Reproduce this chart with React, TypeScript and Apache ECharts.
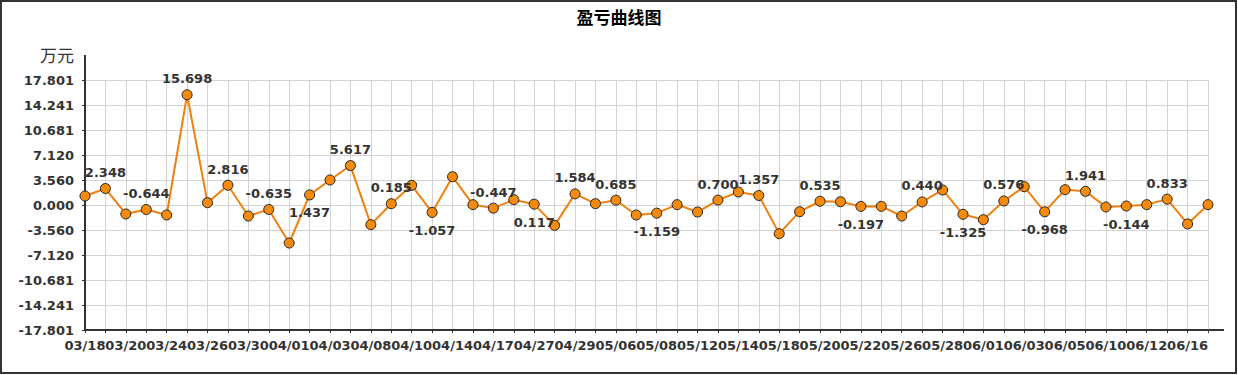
import React, { useEffect, useRef } from "react";
import * as echarts from "echarts";

const categories: string[] = [
  "03/18", "03/19", "03/20", "03/23", "03/24", "03/25", "03/26", "03/27",
  "03/30", "03/31", "04/01", "04/02", "04/03", "04/07", "04/08", "04/09",
  "04/10", "04/13", "04/14", "04/16", "04/17", "04/20", "04/27", "04/28",
  "04/29", "04/30", "05/06", "05/07", "05/08", "05/11", "05/12", "05/13",
  "05/14", "05/15", "05/18", "05/19", "05/20", "05/21", "05/22", "05/25",
  "05/26", "05/27", "05/28", "05/29", "06/01", "06/02", "06/03", "06/04",
  "06/05", "06/08", "06/10", "06/11", "06/12", "06/15", "06/16", "06/17",
];

const profit: number[] = [
  1.28, 2.348, -1.28, -0.644, -1.42, 15.698, 0.33, 2.816,
  -1.57, -0.635, -5.41, 1.437, 3.56, 5.617, -2.8, 0.185,
  2.8, -1.057, 4.03, 0.05, -0.447, 0.76, 0.117, -2.9,
  1.584, 0.19, 0.685, -1.42, -1.159, 0.05, -1.0, 0.7,
  1.85, 1.357, -4.08, -0.95, 0.535, 0.47, -0.197, -0.19,
  -1.57, 0.44, 2.14, -1.325, -2.09, 0.576, 2.61, -0.968,
  2.18, 1.941, -0.28, -0.144, 0.05, 0.833, -2.7, 0.05,
];

// label placement per point: "" = no label
const labelPos: string[] = [
  "", "top", "", "top", "", "top", "", "top",
  "", "top", "", "bottom", "", "top", "", "top",
  "", "bottom", "", "", "top", "", "bottom", "",
  "top", "", "top", "", "bottom", "", "", "top",
  "", "top", "", "", "top", "", "bottom", "",
  "", "top", "", "bottom", "", "top", "", "bottom",
  "", "top", "", "bottom", "", "top", "", "",
];

const yMin = -17.801;
const yMax = 17.801;
const yStep = 3.5602;

const TITLE = "盈亏曲线图";
const UNIT = "万元";

export default function App() {
  const ref = useRef<HTMLDivElement>(null);

  useEffect(() => {
    if (!ref.current) return;
    const chart = echarts.init(ref.current, undefined, { renderer: "svg" });
    const axisColor = "#333333";
    const gridColor = "#d3d3d3";
    const textColor = "#333333";
    const font = "DejaVu Sans, Verdana, sans-serif";

    const data = profit.map((v, i) => {
      const pos = labelPos[i];
      if (!pos) return { value: v };
      return {
        value: v,
        label: {
          show: true,
          position: pos,
          distance: pos === "top" ? 4 : 6,
          formatter: (p: any) => Number(p.value).toFixed(3),
          color: textColor,
          fontSize: 13,
          fontWeight: "bold",
          fontFamily: font,
        },
      };
    });

    chart.setOption({
      animation: false,
      backgroundColor: "#ffffff",
      title: {
        text: TITLE,
        left: "center",
        top: 3,
        textStyle: {
          fontSize: 17,
          fontWeight: "bold",
          color: "#000000",
          fontFamily: "Noto Sans CJK SC, sans-serif",
        },
      },
      grid: { left: 85, right: 30, top: 80, bottom: 45, containLabel: false },
      xAxis: {
        type: "category",
        data: categories,
        boundaryGap: false,
        axisLine: { show: true, onZero: false, lineStyle: { color: axisColor, width: 2 } },
        axisTick: { show: true, interval: 0, length: 3, lineStyle: { color: axisColor, width: 1 } },
        axisLabel: {
          interval: 1,
          margin: 9,
          color: textColor,
          fontSize: 13,
          fontWeight: "bold",
          fontFamily: font,
        },
        splitLine: { show: true, interval: 0, lineStyle: { color: gridColor, width: 1 } },
      },
      yAxis: {
        type: "value",
        min: yMin,
        max: yMax,
        interval: yStep,
        name: UNIT,
        nameLocation: "end",
        nameGap: 17,
        nameTextStyle: {
          align: "right",
          padding: [0, 11, 0, 0],
          fontSize: 17,
          color: textColor,
          fontFamily: "Noto Sans CJK SC, sans-serif",
        },
        axisLine: { show: true, lineStyle: { color: axisColor, width: 2 } },
        axisTick: { show: true, length: 3, lineStyle: { color: axisColor, width: 1 } },
        axisLabel: {
          margin: 11,
          color: textColor,
          fontSize: 13,
          fontWeight: "bold",
          fontFamily: font,
          formatter: (v: number) => v.toFixed(3),
        },
        splitLine: { show: true, lineStyle: { color: gridColor, width: 1 } },
      },
      graphic: [
        {
          type: "rect",
          shape: { x: 1, y: 1, width: 1235, height: 372 },
          style: { fill: "none", stroke: "#333333", lineWidth: 2 },
          silent: true,
        },
        {
          type: "line",
          shape: { x1: 85, y1: 55, x2: 85, y2: 81 },
          style: { stroke: axisColor, lineWidth: 2 },
          silent: true,
        },
        {
          type: "line",
          shape: { x1: 1207, y1: 330, x2: 1224, y2: 330 },
          style: { stroke: axisColor, lineWidth: 2 },
          silent: true,
        },
      ],
      series: [
        {
          type: "line",
          data,
          symbol: "circle",
          symbolSize: 10,
          lineStyle: { color: "#f0800f", width: 2 },
          itemStyle: { color: "#f58a0b", borderColor: "#222222", borderWidth: 1 },
          z: 5,
        },
      ],
    });
    return () => chart.dispose();
  }, []);

  return (
    <div
      ref={ref}
      style={{ position: "fixed", left: 0, top: 0, width: 1238, height: 375 }}
    />
  );
}
